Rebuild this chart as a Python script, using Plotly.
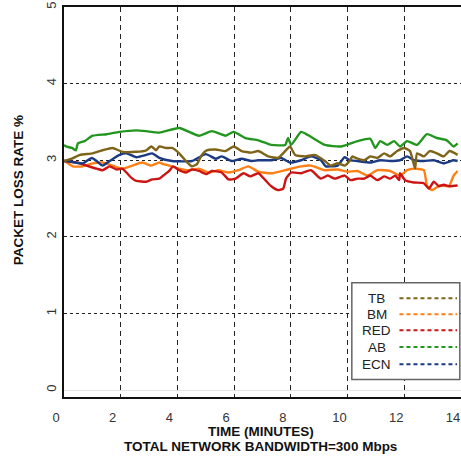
import plotly.graph_objects as go

# ---------------- data (time in minutes, packet loss rate in %) ----------------
t_tb = [0.00, 0.28, 0.56, 1.01, 1.36, 1.71, 2.06, 2.55, 2.90, 3.08, 3.25, 3.36, 3.60, 3.81,
        4.06, 4.30, 4.51, 4.69, 4.86, 5.03, 5.35, 5.70, 5.98, 6.26, 6.61, 6.85, 7.20, 7.55,
        7.80, 7.97, 8.15, 8.50, 8.85, 9.20, 9.41, 9.65, 9.90, 10.07, 10.17, 10.28, 10.59,
        10.80, 11.05, 11.29, 11.50, 11.75, 11.99, 12.20, 12.38, 12.45, 12.69, 12.90, 13.15,
        13.39, 13.60, 13.88]
v_tb = [2.99, 3.02, 3.07, 3.09, 3.13, 3.16, 3.11, 3.11, 3.13, 3.18, 3.13, 3.18, 3.16, 3.16,
        3.09, 2.99, 2.92, 2.95, 3.07, 3.13, 3.14, 3.12, 3.18, 3.12, 3.10, 3.12, 3.05, 3.03,
        3.12, 3.18, 3.07, 3.05, 3.07, 2.99, 2.93, 2.96, 2.93, 2.99, 3.05, 3.03, 3.00,
        3.05, 3.03, 3.09, 3.05, 3.12, 3.16, 3.12, 2.89, 3.09, 3.05, 3.12, 3.09,
        3.05, 3.12, 3.07]

t_bm = [0.00, 0.10, 0.31, 0.66, 1.01, 1.36, 1.71, 2.06, 2.41, 2.76, 3.08, 3.36, 3.50, 3.71,
        4.06, 4.41, 4.76, 5.10, 5.45, 5.80, 6.15, 6.50, 6.85, 7.31, 7.80, 8.36, 8.71, 9.20,
        9.65, 10.00, 10.35, 10.70, 11.05, 11.50, 11.85, 12.10, 12.34, 12.69, 12.80, 12.97,
        13.25, 13.57, 13.74, 13.88]
v_bm = [2.99, 2.97, 2.92, 2.92, 2.96, 2.97, 2.93, 2.89, 2.93, 2.97, 2.93, 2.97, 2.95, 2.93,
        2.89, 2.87, 2.89, 2.84, 2.87, 2.84, 2.87, 2.92, 2.85, 2.83, 2.87, 2.92, 2.93, 2.87,
        2.88, 2.85, 2.86, 2.80, 2.87, 2.86, 2.80, 2.87, 2.89, 2.87, 2.67, 2.61,
        2.67, 2.66, 2.80, 2.86]

t_red = [0.00, 0.45, 0.80, 1.15, 1.36, 1.61, 1.85, 2.06, 2.20, 2.38, 2.55, 2.90, 3.11, 3.36,
         3.50, 3.71, 3.85, 4.06, 4.30, 4.51, 4.76, 5.03, 5.21, 5.56, 5.80, 6.05, 6.33, 6.57,
         6.85, 7.10, 7.31, 7.55, 7.73, 7.83, 8.01, 8.36, 8.71, 9.06, 9.30, 9.55, 9.90, 10.10,
         10.35, 10.59, 10.80, 11.05, 11.29, 11.50, 11.68, 11.82, 11.85, 12.03, 12.34, 12.69,
         12.87, 13.04, 13.22, 13.39, 13.60, 13.88]
v_red = [2.99, 2.97, 2.93, 2.89, 2.87, 2.92, 2.88, 2.89, 2.84, 2.77, 2.73, 2.72, 2.75, 2.76,
         2.80, 2.86, 2.92, 2.87, 2.84, 2.88, 2.86, 2.82, 2.86, 2.84, 2.75, 2.76, 2.83, 2.79,
         2.83, 2.74, 2.66, 2.61, 2.63, 2.76, 2.84, 2.83, 2.87, 2.76, 2.80, 2.76, 2.80, 2.74,
         2.76, 2.76, 2.80, 2.74, 2.79, 2.76, 2.80, 2.74, 2.83, 2.74, 2.71, 2.70,
         2.63, 2.72, 2.66, 2.68, 2.66, 2.67]

t_ab = [0.00, 0.07, 0.28, 0.42, 0.49, 0.73, 1.01, 1.50, 1.96, 2.55, 2.90, 3.36, 4.06, 4.76,
        5.21, 5.70, 5.98, 6.40, 6.85, 7.31, 7.80, 7.90, 8.01, 8.36, 8.60, 9.20, 9.76, 10.35,
        10.80, 10.98, 11.15, 11.40, 11.64, 11.85, 12.10, 12.45, 12.80, 13.15, 13.50, 13.74,
        13.88]
v_ab = [3.20, 3.18, 3.16, 3.13, 3.22, 3.25, 3.32, 3.34, 3.37, 3.39, 3.38, 3.36, 3.42, 3.32,
        3.38, 3.32, 3.37, 3.29, 3.26, 3.20, 3.20, 3.29, 3.20, 3.37, 3.33, 3.20, 3.18, 3.25,
        3.28, 3.16, 3.25, 3.20, 3.25, 3.18, 3.25, 3.20, 3.34, 3.29, 3.26, 3.18,
        3.22]

t_ecn = [0.00, 0.10, 0.66, 0.98, 1.15, 1.36, 1.61, 1.96, 2.20, 2.55, 2.90, 3.11, 3.36, 3.81,
         4.51, 5.00, 5.35, 5.56, 5.91, 6.26, 6.61, 6.85, 7.31, 7.66, 7.97, 8.36, 8.71, 9.06,
         9.23, 9.41, 9.65, 9.90, 10.07, 10.35, 10.80, 11.15, 11.50, 11.85, 12.10, 12.34,
         12.69, 13.04, 13.39, 13.74, 13.88]
v_ecn = [2.99, 2.99, 2.96, 3.03, 2.99, 2.93, 2.99, 3.07, 3.09, 3.04, 3.07, 3.09, 3.03, 2.99,
         2.99, 3.08, 3.02, 3.05, 2.99, 3.02, 2.99, 3.00, 3.00, 3.03, 2.97, 3.00, 3.05, 3.00,
         2.92, 2.92, 2.93, 3.04, 3.00, 2.99, 2.97, 3.00, 2.99, 3.00, 3.05, 3.00,
         2.99, 3.00, 2.96, 3.00, 2.99]

x_ticks = [0, 2, 4, 6, 8, 10, 12, 14]
y_ticks = [0, 1, 2, 3, 4, 5]
legend_names = ["TB", "BM", "RED", "AB", "ECN"]

colors = {"TB": "#7d6418", "BM": "#ff7f14", "RED": "#cc1414", "AB": "#22961e", "ECN": "#1b3a84"}
data = {"TB": (t_tb, v_tb), "BM": (t_bm, v_bm), "RED": (t_red, v_red),
        "AB": (t_ab, v_ab), "ECN": (t_ecn, v_ecn)}
draw_order = ["BM", "RED", "ECN", "TB", "AB"]

FONT = "Liberation Sans, Arial, sans-serif"

fig = go.Figure()
for name in draw_order:
    t, v = data[name]
    fig.add_trace(go.Scatter(x=t, y=v, mode="lines", name=name, showlegend=False,
                             line=dict(color=colors[name], width=2.4, shape="spline", smoothing=0.5)))

# custom legend (text left, dashed sample right)
shapes = [dict(type="rect", xref="paper", yref="paper", x0=0.725, x1=0.997, y0=0.045, y1=0.293,
               line=dict(color="#666666", width=1.5), fillcolor="white", layer="above")]
annotations = []
row_y = [0.253, 0.212, 0.171, 0.128, 0.084]
for name, yy in zip(legend_names, row_y):
    annotations.append(dict(xref="paper", yref="paper", x=0.788, y=yy, text=name, showarrow=False,
                            xanchor="center", yanchor="middle",
                            font=dict(family=FONT, size=13.5, color="#222")))
    shapes.append(dict(type="line", xref="paper", yref="paper", x0=0.845, x1=0.99, y0=yy, y1=yy,
                       line=dict(color=colors[name], width=2, dash="4px,3px"), layer="above"))

annotations.append(dict(xref="paper", yref="paper", x=-0.116, y=0.53, text="<b>PACKET LOSS RATE %</b>",
                        textangle=-90, showarrow=False, xanchor="center", yanchor="middle",
                        font=dict(family=FONT, size=13.5, color="#111")))
annotations.append(dict(xref="paper", yref="paper", x=0.496, y=-0.089, text="<b>TIME (MINUTES)</b>",
                        showarrow=False, xanchor="center", yanchor="middle",
                        font=dict(family=FONT, size=13.5, color="#111")))
annotations.append(dict(xref="paper", yref="paper", x=0.494, y=-0.127,
                        text="<b>TOTAL NETWORK BANDWIDTH=300 Mbps</b>",
                        showarrow=False, xanchor="center", yanchor="middle",
                        font=dict(family=FONT, size=13.5, color="#111")))

fig.update_layout(
    width=461, height=457,
    margin=dict(l=64, r=0, t=7, b=60),
    paper_bgcolor="white", plot_bgcolor="white",
    shapes=shapes, annotations=annotations,
    xaxis=dict(range=[0, 14.0], tickvals=x_ticks, ticktext=[str(v) for v in x_ticks],
               showgrid=True, gridcolor="#222", gridwidth=1.3, griddash="5px,4px",
               showline=True, linecolor="#111", linewidth=2, mirror=True,
               ticks="", zeroline=False, ticklabelshift=-8, ticklabelstandoff=7,
               tickfont=dict(family=FONT, size=13, color="#333")),
    yaxis=dict(range=[-0.09, 5.0], tickvals=y_ticks, ticktext=[str(v) for v in y_ticks],
               showgrid=True, gridcolor="#222", gridwidth=1.3, griddash="3px,3px",
               showline=True, linecolor="#111", linewidth=2, mirror=False,
               zeroline=True, zerolinecolor="#e2e2e2", zerolinewidth=1.3,
               ticks="", tickangle=-90, ticklabelstandoff=1,
               tickfont=dict(family=FONT, size=13, color="#333")),
)

fig.write_html("out.html")
